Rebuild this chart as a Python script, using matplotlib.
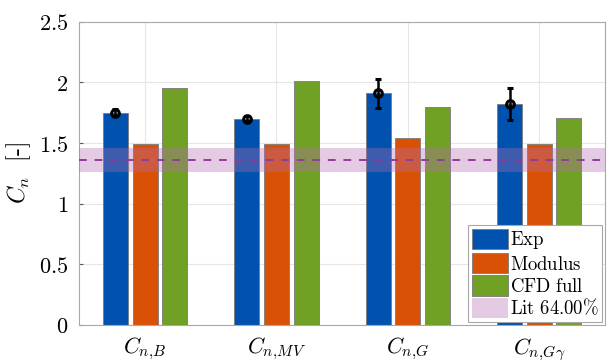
import numpy as np
import matplotlib.pyplot as plt

plt.rcParams['mathtext.fontset'] = 'cm'
plt.rcParams['font.family'] = ['DejaVu Serif']

# Werte je Koeffizient
categories = [r'$C_{n,\!B}$', r'$C_{n,\!MV}$', r'$C_{n,\!G}$', r'$C_{n,\!G\gamma}$']
exp_vals = [1.75, 1.70, 1.91, 1.82]
exp_err = [0.03, 0.02, 0.12, 0.13]
modulus_vals = [1.49, 1.49, 1.54, 1.49]
cfd_vals = [1.95, 2.01, 1.80, 1.71]
lit_mean = 1.36
lit_low = 1.26
lit_high = 1.46

x = np.arange(1, len(categories) + 1)
w = 0.19
off = 0.225

fig = plt.figure(figsize=(6.1, 3.63), dpi=100)
ax = fig.add_axes([0.13, 0.105, 0.862, 0.835])

ax.grid(True, color='#e6e6e6', linewidth=0.8, zorder=0)
ax.set_axisbelow(True)

b1 = ax.bar(x - off, exp_vals, w, color='#0052ae', edgecolor='#7a7a7a', linewidth=0.6, zorder=2, label=r'$\mathrm{Exp}$')
b2 = ax.bar(x, modulus_vals, w, color='#d95105', edgecolor='#7a7a7a', linewidth=0.6, zorder=2, label=r'$\mathrm{Modulus}$')
b3 = ax.bar(x + off, cfd_vals, w, color='#70a024', edgecolor='#7a7a7a', linewidth=0.6, zorder=2, label=r'$\mathrm{CFD\ full}$')

ax.errorbar(x - off, exp_vals, yerr=exp_err, fmt='o', color='black', markersize=5.5,
            markerfacecolor='none', markeredgewidth=2.2, elinewidth=1.8, capsize=2, capthick=1.8, zorder=4)

band = ax.axhspan(lit_low, lit_high, color='#b36cb0', alpha=0.35, linewidth=0, zorder=3,
                  label=r'$\mathrm{Lit\ 64.00\%}$')
ax.axhline(lit_mean, color='#8e3d9c', linestyle=(0, (4, 4)), linewidth=1.4, zorder=3)

ax.set_xlim(0.5, 4.5)
ax.set_ylim(0, 2.5)
ax.set_xticks(x)
ax.set_xticklabels(categories, fontsize=16)
ax.set_yticks([0, 0.5, 1, 1.5, 2, 2.5])
ax.set_yticklabels([r'$0$', r'$0.5$', r'$1$', r'$1.5$', r'$2$', r'$2.5$'], fontsize=16)
ax.tick_params(direction='in', length=3, color='#555555', pad=8)
ax.set_ylabel(r'$C_n\ \ [\text{-}]$', fontsize=17, labelpad=4)

for s in ax.spines.values():
    s.set_color('#a8a8a8')
    s.set_linewidth(0.8)

leg = ax.legend([b1, b2, b3, band],
                [r'$\mathrm{Exp}$', r'$\mathrm{Modulus}$', r'$\mathrm{CFD\ full}$', r'$\mathrm{Lit\ 64.00\%}$'],
                loc='lower right', fontsize=13.5, handlelength=1.9, handleheight=1.3,
                handletextpad=0.1, borderpad=0.2, labelspacing=0.1, borderaxespad=0.15,
                fancybox=False, framealpha=1)
leg.get_frame().set_edgecolor('#a8a8a8')
leg.get_frame().set_linewidth(0.8)

fig.savefig('out.png', dpi=100)
